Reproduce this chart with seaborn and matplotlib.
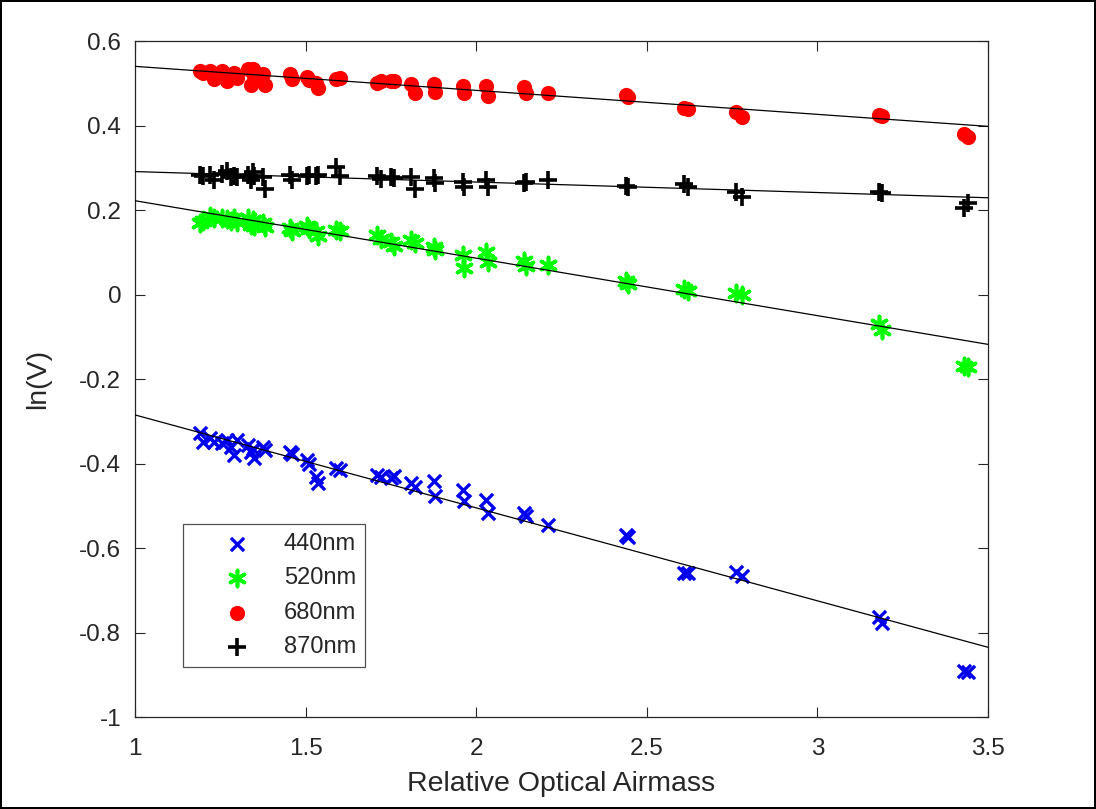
import numpy as np
import pandas as pd
import matplotlib
matplotlib.use("Agg")
import matplotlib.pyplot as plt
import seaborn as sns

# Data
airmass = [1.19, 1.20, 1.22, 1.23, 1.255, 1.27, 1.28, 1.29, 1.30, 1.33, 1.34, 1.345,
           1.35, 1.375, 1.38, 1.455, 1.46, 1.505, 1.51, 1.53, 1.535, 1.59, 1.60, 1.71,
           1.72, 1.75, 1.76, 1.81, 1.82, 1.875, 1.88, 1.96, 1.965, 2.03, 2.035, 2.14,
           2.145, 2.21, 2.44, 2.445, 2.61, 2.62, 2.76, 2.78, 3.18, 3.19, 3.43, 3.44]

v440 = [-0.328, -0.348, -0.340, -0.350, -0.352, -0.345, -0.362, -0.380, -0.345, -0.355,
        -0.372, -0.365, -0.388, -0.360, -0.368, -0.372, -0.378, -0.392, -0.400, -0.432,
        -0.447, -0.410, -0.415, -0.427, -0.432, -0.435, -0.430, -0.445, -0.455, -0.442,
        -0.478, -0.462, -0.488, -0.486, -0.518, -0.518, -0.525, -0.545, -0.569, -0.575,
        -0.658, -0.660, -0.656, -0.666, -0.764, -0.777, -0.890, -0.893]

v520 = [0.170, 0.175, 0.185, 0.180, 0.180, 0.178, 0.175, 0.180, 0.172, 0.180, 0.165,
        0.177, 0.162, 0.170, 0.160, 0.157, 0.150, 0.162, 0.155, 0.150, 0.138, 0.153,
        0.150, 0.140, 0.132, 0.125, 0.115, 0.128, 0.122, 0.113, 0.105, 0.093, 0.062,
        0.100, 0.078, 0.080, 0.068, 0.070, 0.032, 0.025, 0.013, 0.008, 0.003, 0.000,
        -0.070, -0.085, -0.170, -0.172]

v680 = [0.530, 0.525, 0.528, 0.510, 0.528, 0.505, 0.515, 0.525, 0.512, 0.533, 0.497,
        0.533, 0.518, 0.522, 0.496, 0.522, 0.510, 0.515, 0.508, 0.500, 0.488, 0.510,
        0.512, 0.500, 0.505, 0.505, 0.506, 0.498, 0.478, 0.498, 0.480, 0.494, 0.478,
        0.494, 0.470, 0.490, 0.478, 0.478, 0.472, 0.468, 0.442, 0.440, 0.433, 0.421,
        0.425, 0.423, 0.379, 0.374]

v870 = [0.282, 0.280, 0.282, 0.272, 0.285, 0.292, 0.278, 0.280, 0.278, 0.282, 0.270,
        0.290, 0.280, 0.278, 0.250, 0.282, 0.270, 0.280, 0.282, 0.280, 0.282, 0.302,
        0.280, 0.280, 0.274, 0.277, 0.275, 0.278, 0.250, 0.275, 0.265, 0.266, 0.255,
        0.270, 0.255, 0.265, 0.266, 0.272, 0.257, 0.254, 0.262, 0.255, 0.242, 0.230,
        0.243, 0.240, 0.205, 0.216]

# fitted Langley lines (end points at x = 1 and x = 3.5)
fit_x = [1.0, 3.5]
fit440 = [-0.285, -0.835]
fit520 = [0.222, -0.118]
fit680 = [0.540, 0.398]
fit870 = [0.291, 0.229]

labels = ["440nm", "520nm", "680nm", "870nm"]
xticks = [1, 1.5, 2, 2.5, 3, 3.5]
xticklabels = ["1", "1.5", "2", "2.5", "3", "3.5"]
yticks = [-1, -0.8, -0.6, -0.4, -0.2, 0, 0.2, 0.4, 0.6]
yticklabels = ["-1", "-0.8", "-0.6", "-0.4", "-0.2", "0", "0.2", "0.4", "0.6"]

sns.set_style("ticks")
plt.rcParams["font.family"] = ["Liberation Sans", "DejaVu Sans"]
plt.rcParams["axes.unicode_minus"] = False

fig = plt.figure(figsize=(10.96, 8.09), dpi=100)
fig.patch.set_edgecolor("black")
fig.patch.set_linewidth(1.5)
ax = fig.add_axes([0.1232, 0.1137, 0.7783, 0.8356])

series = [v440, v520, v680, v870]
styles = [
    dict(marker="x", color="#0000ee", s=90, linewidths=2.4),
    dict(marker=(6, 2, 0), color="#00ff00", s=135, linewidths=2.6),
    dict(marker="o", color="#ff0000", s=120, linewidths=0, edgecolor="#ff0000"),
    dict(marker="+", color="black", s=155, linewidths=2.6),
]
for vals, lab, st in zip(series, labels, styles):
    df = pd.DataFrame({"airmass": airmass, "lnv": vals})
    sns.scatterplot(data=df, x="airmass", y="lnv", ax=ax, label=lab, zorder=3, **st)

for fy in [fit440, fit520, fit680, fit870]:
    ax.plot(fit_x, fy, color="black", lw=0.9, zorder=4)

ax.set_xlim(1, 3.5)
ax.set_ylim(-1, 0.6)
ax.set_xticks(xticks)
ax.set_xticklabels(xticklabels)
ax.set_yticks(yticks)
ax.set_yticklabels(yticklabels)
ax.tick_params(direction="in", top=True, right=True, length=7, width=0.8,
               labelsize=17.5, colors="#262626")
ax.tick_params(axis="x", pad=15)
ax.tick_params(axis="y", pad=10)
for sp in ax.spines.values():
    sp.set_visible(True)
    sp.set_color("#262626")
    sp.set_linewidth(0.9)

ax.set_xlabel("Relative Optical Airmass", fontsize=20.5, color="#262626", labelpad=8)
ax.set_ylabel("ln(V)", fontsize=20.5, color="#262626", labelpad=20)

leg = ax.legend(loc="lower left", bbox_to_anchor=(0.056, 0.074), borderaxespad=0,
                fontsize=17, frameon=True, fancybox=False, edgecolor="#262626",
                labelspacing=0.52, handlelength=3.8, handletextpad=0.1,
                borderpad=0.38)
leg.get_frame().set_linewidth(0.9)

fig.savefig("out.png", dpi=100)
